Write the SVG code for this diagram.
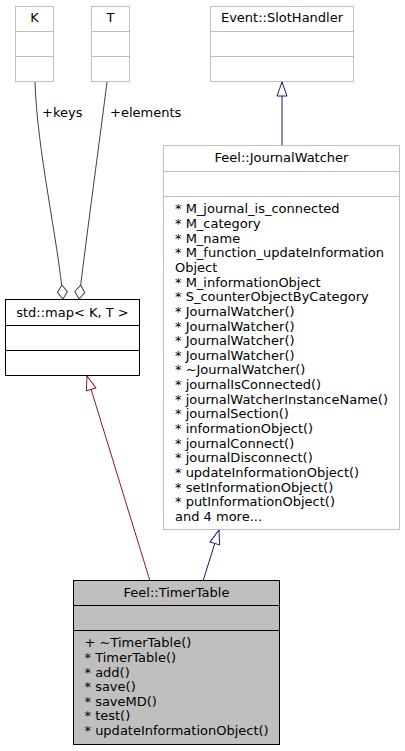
<svg xmlns="http://www.w3.org/2000/svg" width="405" height="751" viewBox="0 0 405 751">
<style>
text{font-family:"DejaVu Sans","Liberation Sans",sans-serif;font-size:13px;fill:#000}
.c{text-anchor:middle}
.grey rect,.grey line{fill:#fff;stroke:#bfbfbf;stroke-width:1}
.blk rect,.blk line{fill:#fff;stroke:#000;stroke-width:1}
.cur rect{fill:#bfbfbf}
.e{fill:none;stroke-width:1}
</style>
<defs>
<marker id="triB" markerUnits="userSpaceOnUse" markerWidth="16" markerHeight="12" refX="14" refY="5" orient="auto" overflow="visible"><path d="M0,0 L14,5 L0,10 Z" fill="#fff" stroke="#191970"/></marker>
<marker id="triR" markerUnits="userSpaceOnUse" markerWidth="16" markerHeight="12" refX="14" refY="5" orient="auto" overflow="visible"><path d="M0,0 L14,5 L0,10 Z" fill="#fff" stroke="#8b1a1a"/></marker>
<marker id="dia" markerUnits="userSpaceOnUse" markerWidth="16" markerHeight="12" refX="14" refY="5" orient="auto" overflow="visible"><path d="M0,5 L7,0 L14,5 L7,10 Z" fill="#fff" stroke="#404040"/></marker>
</defs>
<g id="edges">
<path class="e" d="M35,82 C37,150 58,240 63,299" stroke="#404040" marker-end="url(#dia)"/>
<path class="e" d="M107,82 C101,130 86,240 79,299" stroke="#404040" marker-end="url(#dia)"/>
<text x="42" y="116.5">+keys</text>
<text x="110" y="116.5">+elements</text>
<path class="e" d="M282,146 L282,82" stroke="#191970" marker-end="url(#triB)"/>
<path class="e" d="M150,581 L87,376" stroke="#8b1a1a" marker-end="url(#triR)"/>
<path class="e" d="M203,581 L219,530" stroke="#191970" marker-end="url(#triB)"/>
</g>
<g id="K" class="grey">
<rect x="15.5" y="6.5" width="38" height="75"/>
<line x1="15.5" y1="31.5" x2="53.5" y2="31.5"/>
<line x1="15.5" y1="56.5" x2="53.5" y2="56.5"/>
<text class="c" x="34.5" y="22">K</text>
</g>
<g id="T" class="grey">
<rect x="91.5" y="6.5" width="38" height="75"/>
<line x1="91.5" y1="31.5" x2="129.5" y2="31.5"/>
<line x1="91.5" y1="56.5" x2="129.5" y2="56.5"/>
<text class="c" x="110.5" y="22">T</text>
</g>
<g id="SlotHandler" class="grey">
<rect x="210.5" y="6.5" width="143" height="75"/>
<line x1="210.5" y1="31.5" x2="353.5" y2="31.5"/>
<line x1="210.5" y1="56.5" x2="353.5" y2="56.5"/>
<text class="c" x="282" y="22">Event::SlotHandler</text>
</g>
<g id="JournalWatcher" class="grey">
<rect x="163.5" y="145.5" width="236" height="384"/>
<line x1="163.5" y1="171.5" x2="399.5" y2="171.5"/>
<line x1="163.5" y1="196.5" x2="399.5" y2="196.5"/>
<text class="c" x="281.5" y="161.7">Feel::JournalWatcher</text>
<text x="175">
<tspan x="175" y="213.3">* M_journal_is_connected</tspan>
<tspan x="175" y="227.95">* M_category</tspan>
<tspan x="175" y="242.6">* M_name</tspan>
<tspan x="175" y="257.25">* M_function_updateInformation</tspan>
<tspan x="175" y="271.9">Object</tspan>
<tspan x="175" y="286.55">* M_informationObject</tspan>
<tspan x="175" y="301.2">* S_counterObjectByCategory</tspan>
<tspan x="175" y="315.85">* JournalWatcher()</tspan>
<tspan x="175" y="330.5">* JournalWatcher()</tspan>
<tspan x="175" y="345.15">* JournalWatcher()</tspan>
<tspan x="175" y="359.8">* JournalWatcher()</tspan>
<tspan x="175" y="374.45">* ~JournalWatcher()</tspan>
<tspan x="175" y="389.1">* journalIsConnected()</tspan>
<tspan x="175" y="403.75">* journalWatcherInstanceName()</tspan>
<tspan x="175" y="418.4">* journalSection()</tspan>
<tspan x="175" y="433.05">* informationObject()</tspan>
<tspan x="175" y="447.7">* journalConnect()</tspan>
<tspan x="175" y="462.35">* journalDisconnect()</tspan>
<tspan x="175" y="477">* updateInformationObject()</tspan>
<tspan x="175" y="491.65">* setInformationObject()</tspan>
<tspan x="175" y="506.3">* putInformationObject()</tspan>
<tspan x="175" y="520.95">and 4 more...</tspan>
</text>
</g>
<g id="map" class="blk">
<rect x="5.5" y="299.5" width="134" height="76"/>
<line x1="5.5" y1="325.5" x2="139.5" y2="325.5"/>
<line x1="5.5" y1="350.5" x2="139.5" y2="350.5"/>
<text class="c" x="72.5" y="317">std::map&lt; K, T &gt;</text>
</g>
<g id="TimerTable" class="blk cur">
<rect x="73.5" y="580.5" width="206" height="164"/>
<line x1="73.5" y1="605.5" x2="279.5" y2="605.5"/>
<line x1="73.5" y1="630.5" x2="279.5" y2="630.5"/>
<text class="c" x="176.5" y="596.7">Feel::TimerTable</text>
<text>
<tspan x="84.5" y="647.3">+ ~TimerTable()</tspan>
<tspan x="84.5" y="661.9">* TimerTable()</tspan>
<tspan x="84.5" y="676.5">* add()</tspan>
<tspan x="84.5" y="691.1">* save()</tspan>
<tspan x="84.5" y="705.7">* saveMD()</tspan>
<tspan x="84.5" y="720.3">* test()</tspan>
<tspan x="84.5" y="734.9">* updateInformationObject()</tspan>
</text>
</g>
</svg>
